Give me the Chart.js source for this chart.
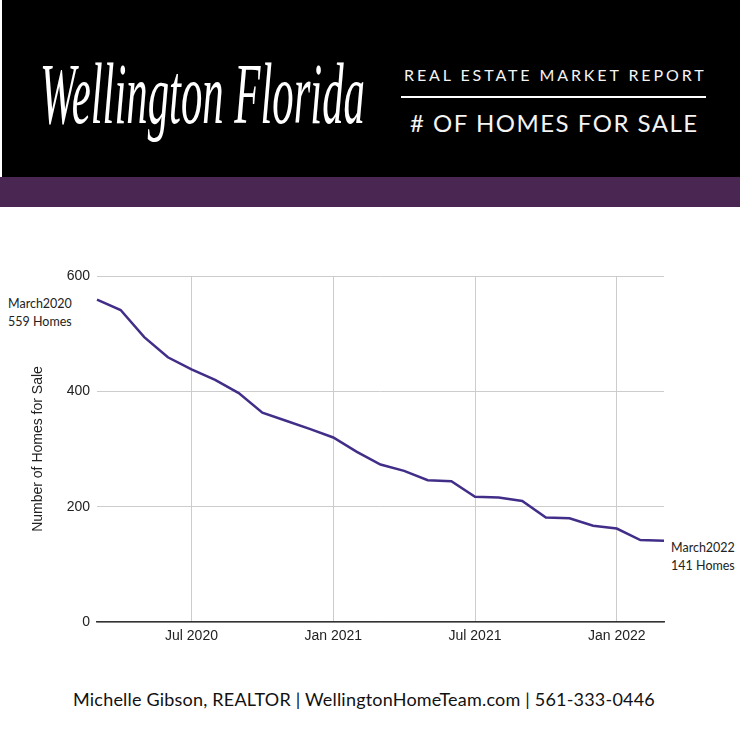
<!DOCTYPE html>
<html>
<head>
<meta charset="utf-8">
<script src="https://cdn.jsdelivr.net/npm/chart.js@4.4.0/dist/chart.umd.min.js"></script>
<style>
  body { margin: 0; background: #fff; }
  #page { position: relative; width: 740px; height: 740px; overflow: hidden; background: #fff; }
  #header { position: absolute; left: 2px; top: 0; width: 738px; height: 177px; background: #000; }
  #band { position: absolute; left: 0; top: 177px; width: 740px; height: 30px; background: #4a2652; }
  #script { position: absolute; left: 40px; top: 46px; color: #fff; font: italic 72px 'Liberation Serif'; line-height: 80px; white-space: nowrap;
    transform-origin: left top; }
  #report { position: absolute; left: 404px; top: 65px; color: #f4f4f4; font: 16px Lato; letter-spacing: 2.9px; white-space: nowrap; }
  #rule { position: absolute; left: 401px; top: 96px; width: 305px; height: 2px; background: #fff; }
  #homes { position: absolute; left: 410px; top: 108px; color: #f4f4f4; font: 24px Lato; letter-spacing: 1.5px; white-space: nowrap; }
  .note { position: absolute; color: #222; font: 12.5px Lato; line-height: 18px; white-space: nowrap; }
  #footer { position: absolute; left: -6px; width: 740px; top: 688px; text-align: center; color: #111; font: 18px Lato; letter-spacing: 0.2px; white-space: nowrap; }
  #chartBox { position: absolute; left: 0; top: 240px; width: 740px; height: 420px; }
</style>
</head>
<body>
<div id="page">
  <div id="header"></div>
  <div id="band"></div>
  <div id="script">Wellington Florida</div>
  <div id="report">REAL ESTATE MARKET REPORT</div>
  <div id="rule"></div>
  <div id="homes"># OF HOMES FOR SALE</div>
  <div class="note" style="left:8px; top:295px;">March2020<br>559 Homes</div>
  <div class="note" style="left:671px; top:539px; text-align:center;">March2022<br>141 Homes</div>
  <div id="chartBox"><canvas id="myChart-line"></canvas></div>
  <div id="footer">Michelle Gibson, REALTOR | WellingtonHomeTeam.com | 561-333-0446</div>
</div>
<script>
// monthly inventory, Mar 2020 - Mar 2022
const months = [
  'Mar 2020', 'Apr 2020', 'May 2020', 'Jun 2020', 'Jul 2020', 'Aug 2020', 'Sep 2020', 'Oct 2020', 'Nov 2020', 'Dec 2020',
  'Jan 2021', 'Feb 2021', 'Mar 2021', 'Apr 2021', 'May 2021', 'Jun 2021', 'Jul 2021', 'Aug 2021', 'Sep 2021', 'Oct 2021',
  'Nov 2021', 'Dec 2021', 'Jan 2022', 'Feb 2022', 'Mar 2022'
];
const homesForSale = [
  559, 541, 494, 459, 438, 420, 397, 363, 349, 335,
  320, 295, 273, 262, 246, 244, 217, 216, 210, 181,
  180, 167, 162, 142, 141
];
const tickLabels = ['Jul 2020', 'Jan 2021', 'Jul 2021', 'Jan 2022'];
const yTicks = [0, 200, 400, 600];

// squeeze the script title into its slot
const script = document.getElementById('script');
const sw = script.getBoundingClientRect().width;
script.style.transform = 'scale(' + (325 / sw) + ', 1.2)';

const axisFont = { family: 'Liberation Sans', size: 14 };
const ctx = document.getElementById('myChart-line').getContext('2d');
new Chart(ctx, {
  type: 'line',
  data: {
    labels: months,
    datasets: [{
      label: 'Number of Homes for Sale',
      data: homesForSale,
      borderColor: 'rgb(66, 46, 136)',
      borderWidth: 2.5,
      pointRadius: 0,
      tension: 0,
      fill: false
    }]
  },
  options: {
    responsive: true,
    maintainAspectRatio: false,
    animation: false,
    layout: { padding: { top: 36, right: 76, left: 0, bottom: 0 } },
    plugins: { legend: { display: false }, tooltip: { enabled: false } },
    scales: {
      x: {
        offset: false,
        grid: { color: '#cccccc', lineWidth: 1, drawTicks: false },
        border: { display: true, color: '#333333', width: 1.5 },
        ticks: {
          autoSkip: false,
          maxRotation: 0,
          padding: 6,
          color: '#222',
          font: axisFont,
          callback: function (value) {
            const label = months[value];
            return tickLabels.includes(label) ? label : null;
          }
        },
        afterFit: function (scale) { scale.height = 38; }
      },
      y: {
        min: 0,
        max: 600,
        afterBuildTicks: function (scale) { scale.ticks = yTicks.map(v => ({ value: v })); },
        grid: { color: '#cccccc', lineWidth: 1, drawTicks: false },
        border: { display: false },
        ticks: { padding: 7, color: '#222', font: axisFont },
        title: {
          display: true,
          text: 'Number of Homes for Sale',
          color: '#222',
          font: axisFont,
          padding: { top: 30, bottom: 0 }
        },
        afterFit: function (scale) { scale.width = 97; }
      }
    }
  }
});
</script>
</body>
</html>
